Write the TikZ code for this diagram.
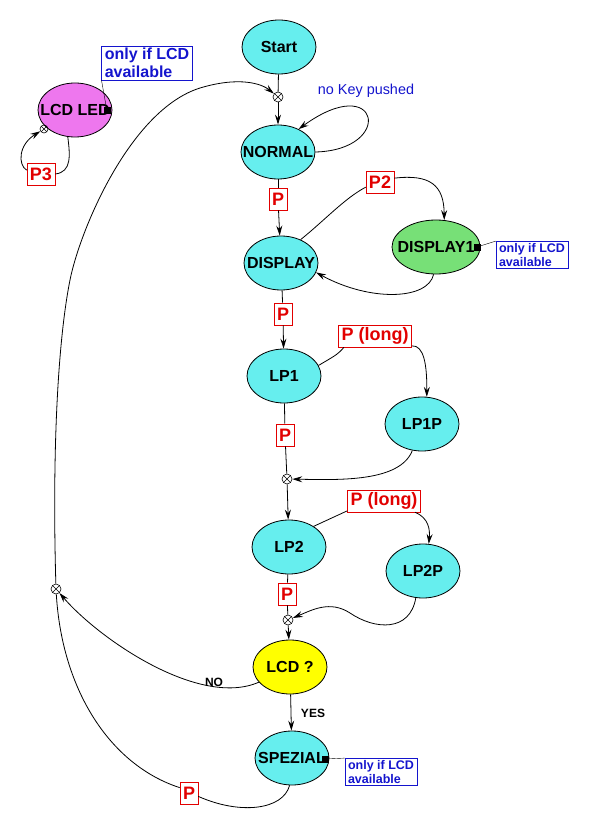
\documentclass[tikz,border=0pt]{standalone}
\usepackage{fontspec}
\setmainfont{Liberation Sans}
\usetikzlibrary{arrows.meta,shapes.geometric}
\definecolor{stcyan}{RGB}{102,238,238}
\definecolor{stpink}{RGB}{238,119,238}
\definecolor{stgreen}{RGB}{119,224,119}
\definecolor{styellow}{RGB}{255,255,0}
\definecolor{lblred}{RGB}{226,0,0}
\definecolor{noteblue}{RGB}{20,20,205}
\newcommand{\stxt}[1]{\makebox[0pt]{#1}}
\begin{document}
\begin{tikzpicture}
[x=1pt,y=-1pt,line width=0.8pt,>={Stealth[length=10pt,width=6pt,inset=3.5pt]},
 state/.style={draw,ellipse,fill=stcyan,minimum width=74pt,minimum height=54pt,inner sep=0pt,
   font=\bfseries\fontsize{16}{17}\selectfont},
 lbl/.style={draw=lblred,line width=0.6pt,fill=white,text=lblred,inner xsep=3pt,inner ysep=2.5pt,
   minimum height=22pt,font=\bfseries\fontsize{18}{18}\selectfont},
 note/.style={draw=noteblue,line width=0.6pt,text=noteblue,align=left,inner xsep=3pt,inner ysep=2pt,
   font=\bfseries\fontsize{12.5}{14}\selectfont},
 junc/.style={draw,circle,minimum size=10pt,inner sep=0pt,line width=0.6pt,
   path picture={\draw[line width=0.6pt] (path picture bounding box.north west)--(path picture bounding box.south east)
     (path picture bounding box.south west)--(path picture bounding box.north east);}},
 sq/.style={fill=black,minimum size=7pt,inner sep=0pt},
 yesno/.style={font=\bfseries\fontsize{12}{12}\selectfont}]
\useasboundingbox (0,0) rectangle (594,834);
%% states
\node[state] (start)   at (279,47)  {\stxt{Start}};
\node[state] (normal)  at (278,152) {\stxt{NORMAL}};
\node[state] (display) at (281,263) {\stxt{DISPLAY}};
\node[state,fill=stgreen,minimum width=88pt] (disp1) at (436,247) {\stxt{DISPLAY1}};
\node[state] (lp1)     at (284,376) {\stxt{LP1}};
\node[state] (lp1p)    at (422,424) {\stxt{LP1P}};
\node[state] (lp2)     at (289,547) {\stxt{LP2}};
\node[state] (lp2p)    at (423,571) {\stxt{LP2P}};
\node[state,fill=styellow] (lcdq) at (290,667) {\stxt{LCD ?}};
\node[state] (spez)    at (292,758) {\stxt{SPEZIAL}};
\node[state,fill=stpink] (lcdled) at (75,110) {\stxt{LCD LED}};
%% junctions
\node[junc] (j1) at (278,97)  {};
\node[junc] (j2) at (287,479) {};
\node[junc] (j3) at (288,620) {};
\node[junc] (j4) at (56,589)  {};
\node[junc,minimum size=8pt] (j5) at (44,129) {};
%% key labels
\node[lbl] (pn)  at (278,199) {P};
\node[lbl] (pd)  at (283,314) {P};
\node[lbl] (p2)  at (380,182) {P2};
\node[lbl] (pl1) at (375,336) {P (long)};
\node[lbl] (pq1) at (285,435) {P};
\node[lbl] (pl2) at (384,501) {P (long)};
\node[lbl] (pq2) at (287,594) {P};
\node[lbl] (ps)  at (189,793) {P};
\node[lbl] (p3)  at (41,174)  {P3};
%% main column
\draw (start) -- (j1);
\draw[->] (j1) -- (normal);
\draw (normal) -- (pn);
\draw[->] (pn) -- (display);
\draw (display) -- (pd);
\draw[->] (pd) -- (lp1);
\draw (lp1) -- (pq1);
\draw (pq1) -- (j2);
\draw[->] (j2) -- (lp2);
\draw (lp2) -- (pq2);
\draw (pq2) -- (j3);
\draw[->] (j3) -- (lcdq);
\draw[->] (lcdq) -- (spez);
\node[yesno] (yes) at (313,713) {YES};
%% NORMAL loop
\draw[->] (normal.east) .. controls (395,150) and (380,70) .. (normal.48);
\node[text=noteblue,font=\fontsize{14.4}{15}\selectfont] (nokey) at (366,91) {no Key pushed};
%% DISPLAY <-> DISPLAY1
\draw (display.50) .. controls (325,220) and (345,198) .. (p2.200);
\draw[->] (p2.15) .. controls (430,174) and (444,185) .. (disp1.73);
\draw[->] (disp1.265) .. controls (428,300) and (370,302) .. (display.-15);
%% LP1 <-> LP1P
\draw (lp1.17) .. controls (338,354) .. (pl1.200);
\draw[->] (pl1.-15) .. controls (424,345) and (427,365) .. (lp1p.80);
\draw[->] (lp1p.250) .. controls (400,482) and (340,480) .. (j2);
%% LP2 <-> LP2P
\draw (lp2.40) .. controls (330,518) .. (pl2.195);
\draw[->] (pl2.-20) .. controls (429,518) and (430,530) .. (lp2p.78);
\draw[->] (lp2p.255) .. controls (410,632) and (375,630) .. (350,613)
  .. controls (330,600) and (312,610) .. (j3);
%% NO and back to start
\draw[->] (lcdq.206) .. controls (200,708) and (100,640) .. (j4);
\node[yesno] (no) at (214,682) {NO};
\draw (spez.265) .. controls (283,810) and (240,815) .. (ps.-20);
\draw (ps.150) .. controls (110,765) and (62,690) .. (j4);
\draw[->] (j4) .. controls (52,450) and (58,340) .. (70,280)
  .. controls (80,230) and (130,110) .. (200,88)
  .. controls (240,76) and (262,84) .. (j1);
%% LCD LED loop
\draw (lcdled.255) .. controls (70,155) and (72,172) .. (p3.east);
\draw[->] (p3.165) .. controls (18,165) and (18,145) .. (j5);
%% notes
\node[sq] (sqled) at (107,111) {};
\node[sq] (sqd1)  at (477,247) {};
\node[sq] (sqs)   at (325,759) {};
\node[note,font=\bfseries\fontsize{16}{18}\selectfont] (nled) at (147,63) {only if LCD\\available};
\node[note] (nd1) at (532,255) {only if LCD\\available};
\node[note] (ns)  at (381,772) {only if LCD\\available};
\draw[thin] (sqled) -- (nled.south west);
\draw[thin] (sqd1) -- (nd1.north west);
\draw[thin] (sqs) -- (ns.north west);
\end{tikzpicture}
\end{document}
